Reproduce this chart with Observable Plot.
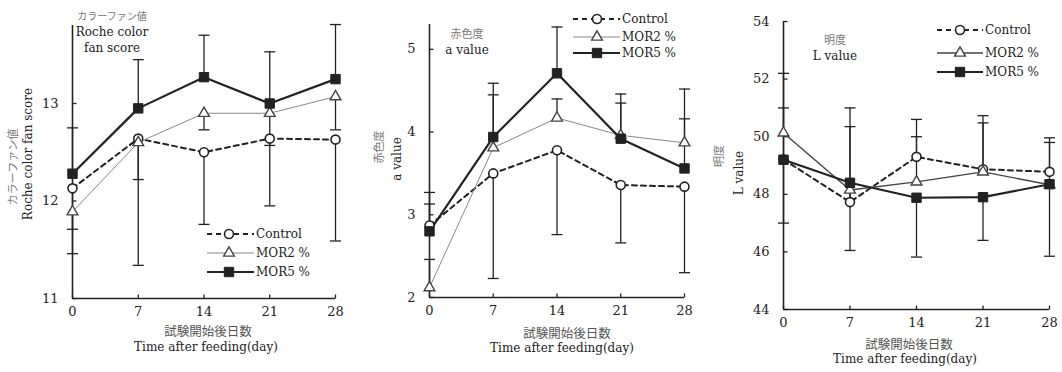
<!DOCTYPE html>
<html><head><meta charset="utf-8">
<script src="https://cdn.jsdelivr.net/npm/d3@7"></script>
<script src="https://cdn.jsdelivr.net/npm/@observablehq/plot@0.6"></script>
<style>
body{margin:0;background:#fff;}
#wrap{position:relative;width:1062px;height:372px;overflow:hidden;background:#fff;}
.panel{position:absolute;top:0;}
</style></head><body><div id="wrap"></div>
<script>
// ---- data ----
const days = [0, 7, 14, 21, 28];
const seriesNames = ["Control", "MOR2 %", "MOR5 %"];
const xTitleJa = "試験開始後日数";
const xTitleEn = "Time after feeding(day)";

// Panel 1: Roche color fan score
const fanTicks = [11, 12, 13];
const fanControl = [12.13, 12.64, 12.50, 12.64, 12.63];
const fanMOR2 = [11.89, 12.60, 12.90, 12.90, 13.07];
const fanMOR5 = [12.28, 12.95, 13.27, 13.00, 13.25];
const fanControlErr = [11.71, 11.34, 11.76, 11.95, 11.59];
const fanMOR2Err = [11.46, 12.22, 12.73, 12.57, 12.73];
const fanMOR5Err = [12.75, 13.45, 13.70, 13.53, 13.81];

// Panel 2: a value
const aTicks = [2, 3, 4, 5];
const aControl = [2.87, 3.50, 3.78, 3.36, 3.34];
const aMOR2 = [2.12, 3.81, 4.17, 3.96, 3.87];
const aMOR5 = [2.80, 3.94, 4.71, 3.92, 3.56];
const aControlErr = [3.27, 2.23, 2.76, 2.66, 2.30];
const aMOR2Err = [2.46, 4.45, 4.40, 4.35, 4.16];
const aMOR5Err = [3.13, 4.59, 5.27, 4.46, 4.52];

// Panel 3: L value
const lTicks = [44, 46, 48, 50, 52, 54];
const lControl = [49.21, 47.73, 49.30, 48.87, 48.78];
const lMOR2 = [50.13, 48.15, 48.43, 48.78, 48.33];
const lMOR5 = [49.20, 48.40, 47.88, 47.90, 48.35];
const lControlErr = [51.0, 50.35, 50.6, 50.73, 49.96];
const lMOR2Err = [52.2, 51.0, 50.0, 50.48, 49.8];
const lMOR5Err = [47.0, 46.05, 45.82, 46.4, 45.85];

// ---- drawing ----
const FONT = "'DejaVu Serif', 'Liberation Serif', serif";
const JFONT = "'Noto Sans CJK JP', sans-serif";
const INK = "#222";
const GRAY = "#777";

const capSym = {draw(ctx) { ctx.moveTo(-5.5, 0); ctx.lineTo(5.5, 0); }};
const tickUpSym = {draw(ctx) { ctx.moveTo(0, 0); ctx.lineTo(0, -4); }};
const tickRightSym = {draw(ctx) { ctx.moveTo(0, 0); ctx.lineTo(4, 0); }};

function styles(p) {
  return [
    {dash: "5,4", width: 2, stroke: INK, symbol: "circle", r: 4.5, fill: "#fff", mstroke: INK, mwidth: 1.6},
    {dash: null, width: p.mor2Width, stroke: p.mor2Stroke, symbol: "triangle", r: 4.0, fill: "#fff", mstroke: "#444", mwidth: 1.4},
    {dash: null, width: 2.2, stroke: INK, symbol: "square", r: 5.3, fill: INK, mstroke: INK, mwidth: 1}
  ];
}

function panel(p) {
  const rows = [];
  p.values.forEach((vals, si) => vals.forEach((v, i) => rows.push({series: seriesNames[si], si, day: days[i], value: v, err: p.errs[si][i]})));
  const st = styles(p);
  const yMin = p.yDomain[0];
  const marks = [
    Plot.ruleX([0], {stroke: INK, strokeWidth: 1.6}),
    Plot.ruleY([yMin], {stroke: INK, strokeWidth: 1.6}),
    Plot.dot(days, {x: d => d, y: () => yMin, symbol: tickUpSym, stroke: INK, strokeWidth: 1.3}),
    Plot.dot(p.yTicks, {x: () => 0, y: d => d, symbol: tickRightSym, stroke: INK, strokeWidth: 1.3}),
    Plot.axisX({ticks: days, tickSize: 0, tickPadding: p.xPad, fontSize: 13, fill: INK, label: null, tickFormat: d => String(d)}),
    Plot.axisY({ticks: p.yTicks, tickSize: 0, tickPadding: 14, fontSize: 13, fill: INK, label: null, tickFormat: d => String(d)}),
    Plot.ruleX(rows, {x: "day", y1: "value", y2: "err", stroke: INK, strokeWidth: 1.3}),
    Plot.dot(rows, {x: "day", y: "err", symbol: capSym, stroke: INK, strokeWidth: 1.3})
  ];
  st.forEach((s, si) => {
    marks.push(Plot.line(rows.filter(r => r.si === si), {x: "day", y: "value", stroke: s.stroke, strokeWidth: s.width, strokeDasharray: s.dash}));
  });
  st.forEach((s, si) => {
    marks.push(Plot.dot(rows.filter(r => r.si === si), {x: "day", y: "value", symbol: s.symbol, r: s.r, fill: s.fill, stroke: s.mstroke, strokeWidth: s.mwidth}));
  });
  const svg = Plot.plot({
    width: p.width, height: 372,
    marginLeft: p.marginLeft, marginRight: p.marginRight, marginTop: p.marginTop, marginBottom: p.marginBottom,
    style: {fontFamily: FONT, background: "transparent", color: INK},
    x: {domain: [0, 28]},
    y: {domain: p.yDomain},
    marks
  });
  const g = d3.select(svg);
  function txt(x, y, s, o = {}) {
    const t = g.append("text").attr("x", x).attr("y", y).attr("text-anchor", o.anchor || "middle")
      .attr("dominant-baseline", "central")
      .attr("font-family", o.ja ? JFONT : FONT).attr("font-size", o.size || 12)
      .attr("fill", o.fill || INK).text(s);
    if (o.rotate) t.attr("transform", `rotate(-90 ${x} ${y})`);
    return t;
  }
  // rotated y labels
  txt(p.yJa[0], p.yJa[1], p.yLabelJa, {ja: true, rotate: true, size: 11, fill: GRAY});
  txt(p.yEn[0], p.yEn[1], p.yLabelEn, {rotate: true, size: 12});
  // inner labels
  p.inner.forEach(([x, y, s, ja]) => txt(x, y, s, ja ? {ja: true, size: ja === 2 ? 10 : 11, fill: GRAY} : {size: 12}));
  // x titles
  txt(p.xJa[0], p.xJa[1], xTitleJa, {ja: true, size: 12.5, fill: "#555"});
  txt(p.xEn[0], p.xEn[1], xTitleEn, {size: 12});
  // legend
  const [lx0, lx1, lm, ltx] = p.legendX;
  st.forEach((s, si) => {
    const y = p.legendY[si];
    g.append("line").attr("x1", lx0).attr("x2", lx1).attr("y1", y).attr("y2", y)
      .attr("stroke", s.stroke).attr("stroke-width", s.width).attr("stroke-dasharray", s.dash);
    g.append("path").attr("d", d3.symbol(s.symbol === "circle" ? d3.symbolCircle : s.symbol === "triangle" ? d3.symbolTriangle : d3.symbolSquare, s.r * s.r * Math.PI)())
      .attr("transform", `translate(${lm},${y})`).attr("fill", s.fill).attr("stroke", s.mstroke).attr("stroke-width", s.mwidth);
    txt(ltx, y, seriesNames[si], {anchor: "start", size: 12});
  });
  const div = document.createElement("div");
  div.className = "panel";
  div.style.left = p.left + "px";
  div.appendChild(svg);
  document.getElementById("wrap").appendChild(div);
}

panel({
  left: 0, width: 350, marginLeft: 72, marginRight: 15, marginTop: 25, marginBottom: 74,
  yDomain: [11, 13.8], yTicks: fanTicks, xPad: 8,
  values: [fanControl, fanMOR2, fanMOR5], errs: [fanControlErr, fanMOR2Err, fanMOR5Err],
  mor2Stroke: "#888", mor2Width: 1,
  yLabelJa: "カラーファン値", yLabelEn: "Roche color fan score",
  yJa: [12, 167], yEn: [28, 154],
  inner: [[112, 15, "カラーファン値", 2], [112, 32, "Roche color"], [112, 48, "fan score"]],
  xJa: [208, 330], xEn: [206, 347],
  legendX: [207, 254, 229, 256], legendY: [234, 253, 272]
});
panel({
  left: 350, width: 360, marginLeft: 79, marginRight: 26, marginTop: 24, marginBottom: 75,
  yDomain: [2, 5.3], yTicks: aTicks, xPad: 8,
  values: [aControl, aMOR2, aMOR5], errs: [aControlErr, aMOR2Err, aMOR5Err],
  mor2Stroke: "#888", mor2Width: 1,
  yLabelJa: "赤色度", yLabelEn: "a value",
  yJa: [28, 147], yEn: [47, 159],
  inner: [[117, 33, "赤色度", 1], [117, 50, "a value"]],
  xJa: [217, 332], xEn: [212, 348],
  legendX: [223, 270, 247, 272], legendY: [19, 37, 53]
});
panel({
  left: 700, width: 362, marginLeft: 83, marginRight: 13, marginTop: 21, marginBottom: 63,
  yDomain: [44, 54], yTicks: lTicks, xPad: 8,
  values: [lControl, lMOR2, lMOR5], errs: [lControlErr, lMOR2Err, lMOR5Err],
  mor2Stroke: "#444", mor2Width: 1.4,
  yLabelJa: "明度", yLabelEn: "L value",
  yJa: [18, 156], yEn: [39, 173],
  inner: [[135, 39, "明度", 1], [135, 56, "L value"]],
  xJa: [209, 343], xEn: [205, 359],
  legendX: [237, 283, 260, 285], legendY: [30, 53, 72]
});
</script></body></html>
